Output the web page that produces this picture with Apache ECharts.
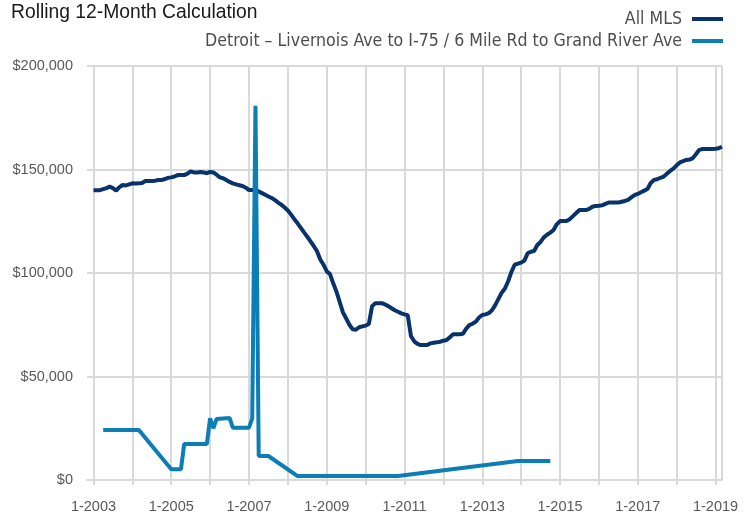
<!DOCTYPE html>
<html>
<head>
<meta charset="utf-8">
<script src="https://cdn.jsdelivr.net/npm/echarts@6/dist/echarts.min.js"></script>
<style>
  html, body { margin: 0; padding: 0; background: #fff; }
  #chart { width: 755px; height: 515px; }
</style>
</head>
<body>
<div id="chart"></div>
<script>
// month categories "M-YYYY", 11-2002 .. 3-2019
var months = [];
for (var y = 2002; y <= 2019; y++) {
  for (var m = 1; m <= 12; m++) {
    if (y === 2002 && m < 11) continue;
    if (y === 2019 && m > 3) break;
    months.push(m + '-' + y);
  }
}

var seriesNames = ['All MLS', 'Detroit \u2013 Livernois Ave to I-75 / 6 Mile Rd to Grand River Ave'];

// All MLS, thousands of dollars, one value per month from 11-2002
var allMLS = [
  null, null,
  // 2003
  140.0, 140.0, 140.0, 140.5, 141.0, 141.7, 141.0, 139.8, 141.5, 142.5, 142.3, 142.8,
  // 2004
  143.3, 143.2, 143.3, 143.5, 144.4, 144.4, 144.5, 144.6, 144.9, 144.9, 145.4, 146.0,
  // 2005
  146.2, 146.6, 147.3, 147.3, 147.3, 148.0, 149.1, 148.6, 148.5, 148.8, 148.6, 148.2,
  // 2006
  148.8, 148.6, 147.5, 146.2, 145.8, 144.9, 144.0, 143.3, 142.8, 142.4, 142.0, 141.2,
  // 2007
  140.1, 140.1, 140.0, 139.4, 138.6, 137.8, 137.0, 136.2, 135.3, 134.0, 133.0, 131.6,
  // 2008
  130.2, 128.2, 126.0, 124.0, 121.8, 119.6, 117.5, 115.3, 113.0, 110.5, 106.5, 104.0,
  // 2009
  100.8, 99.5, 95.0, 91.0, 86.0, 81.0, 78.0, 75.0, 72.8, 72.6, 73.8, 74.2,
  // 2010
  74.6, 75.4, 84.0, 85.4, 85.4, 85.4, 84.8, 84.0, 83.0, 82.0, 81.3, 80.5,
  // 2011
  80.0, 79.6, 69.5, 67.0, 65.8, 65.2, 65.2, 65.2, 66.0, 66.3, 66.5, 66.8,
  // 2012
  67.3, 67.6, 69.0, 70.4, 70.4, 70.4, 70.6, 73.0, 74.8, 75.5, 76.5, 78.5,
  // 2013
  79.7, 80.0, 80.6, 82.0, 84.5, 87.5, 90.5, 92.5, 96.0, 100.5, 104.0, 104.5,
  // 2014
  105.0, 106.0, 109.5, 110.3, 110.6, 113.5, 115.0, 117.2, 118.5, 119.5, 120.8, 123.5,
  // 2015
  125.1, 125.1, 125.1, 126.0, 127.5, 129.0, 130.4, 130.4, 130.4, 131.0, 132.0, 132.4,
  // 2016
  132.5, 132.7, 133.4, 134.0, 134.0, 134.0, 134.0, 134.4, 134.8, 135.3, 136.5, 137.6,
  // 2017
  138.2, 139.0, 139.8, 140.6, 143.5, 145.0, 145.3, 146.0, 146.6, 148.0, 149.3, 150.5,
  // 2018
  152.0, 153.4, 154.0, 154.6, 154.8, 155.5, 157.5, 159.5, 159.9, 159.9, 159.9, 159.9,
  // 2019
  160.0, 160.3, 161.0
];

// Detroit area, sparse monthly readings (thousands of dollars)
var detroitMonths = ['4-2003', '3-2004', '1-2005', '4-2005', '5-2005', '12-2005', '1-2006', '2-2006',
  '3-2006', '7-2006', '8-2006', '1-2007', '2-2007', '3-2007', '4-2007', '7-2007', '4-2008',
  '11-2010', '12-2013', '10-2014'];
var detroitValues = [24.2, 24.2, 5.2, 5.2, 17.4, 17.4, 29.8, 25.0,
  29.5, 30.0, 25.3, 25.3, 29.8, 180.8, 11.6, 11.6, 1.9,
  1.9, 9.2, 9.2];

var yTicks = [0, 50, 100, 150, 200];

var colors = ['#08336a', '#0b7eb5'];
var gridColor = '#d9d9d9';
var labelFont = "'Liberation Sans', Arial, sans-serif";
var narrowFont = "'Liberation Sans Narrow', 'DejaVu Sans Condensed', 'Liberation Sans', sans-serif";

var chart = echarts.init(document.getElementById('chart'));

function isJan(i, v) { return v.indexOf('1-') === 0; }

var legendBase = {
  right: 32, orient: 'vertical', align: 'right', icon: 'rect', padding: 0,
  itemWidth: 31, itemHeight: 4,
  textStyle: { fontFamily: narrowFont, fontSize: 17.6, color: '#4d4d4d', padding: [0, 5, 0, 0] }
};

chart.setOption({
  animation: false,
  color: colors,
  title: {
    text: 'Rolling 12-Month Calculation',
    left: 11, top: 3, padding: 0,
    textStyle: { fontFamily: labelFont, fontSize: 19.3, fontWeight: 'normal', color: '#1a1a1a' }
  },
  legend: [
    Object.assign({}, legendBase, { top: 10, data: [seriesNames[0]] }),
    Object.assign({}, legendBase, { top: 32, data: [seriesNames[1]] })
  ],
  grid: { left: 87, right: 33, top: 66, bottom: 35, containLabel: false },
  xAxis: {
    type: 'category',
    data: months,
    boundaryGap: false,
    axisLine: { lineStyle: { color: gridColor, width: 2 } },
    axisTick: { show: true, interval: isJan, length: 5, lineStyle: { color: gridColor, width: 2 } },
    splitLine: {
      show: true,
      interval: function (i, v) { return isJan(i, v) || i === months.length - 1; },
      lineStyle: { color: gridColor, width: 2 }
    },
    axisLabel: {
      interval: function (i, v) { return isJan(i, v) && (+v.split('-')[1]) % 2 === 1; },
      margin: 19,
      fontFamily: labelFont, fontSize: 14.5, color: '#595959'
    }
  },
  yAxis: {
    type: 'value',
    min: yTicks[0], max: yTicks[yTicks.length - 1], interval: 50,
    axisLine: { show: false },
    axisTick: { show: false },
    splitLine: { lineStyle: { color: gridColor, width: 2 } },
    axisLabel: {
      margin: 14,
      fontFamily: labelFont, fontSize: 14.5, color: '#595959',
      formatter: function (v) { return '$' + (v * 1000).toLocaleString('en-US'); }
    }
  },
  series: [
    {
      name: seriesNames[0], type: 'line', data: allMLS,
      showSymbol: false, symbol: 'none',
      lineStyle: { width: 4, color: colors[0] }
    },
    {
      name: seriesNames[1], type: 'line',
      data: detroitMonths.map(function (mo, i) { return [mo, detroitValues[i]]; }),
      showSymbol: false, symbol: 'none',
      lineStyle: { width: 4, color: colors[1] }
    }
  ]
});
</script>
</body>
</html>
